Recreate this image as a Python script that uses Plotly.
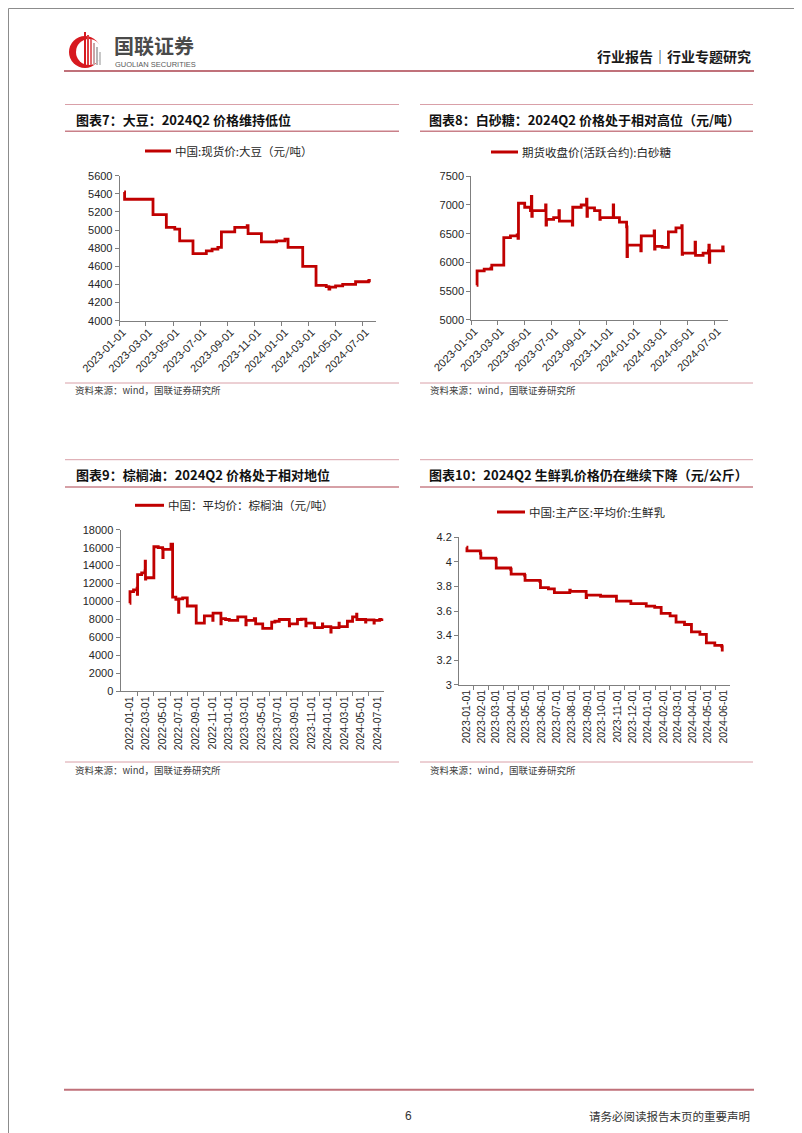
import plotly.graph_objects as go
import pandas as pd

# ---------------- data ----------------
soy_dates = ["2023-01-11", "2023-01-12", "2023-03-17", "2023-04-16", "2023-05-05", "2023-05-16",
             "2023-06-15", "2023-07-15", "2023-07-28", "2023-08-10", "2023-08-18", "2023-09-17",
             "2023-10-15", "2023-10-17", "2023-11-16", "2023-12-20", "2024-01-08", "2024-01-15",
             "2024-02-17", "2024-03-18", "2024-04-10", "2024-04-16", "2024-04-18", "2024-05-01",
             "2024-05-17", "2024-06-15", "2024-07-14", "2024-07-16"]
soy_vals = [5420, 5340, 5170, 5030, 5010, 4880,
            4740, 4770, 4790, 4810, 4980, 5030,
            5050, 4960, 4870, 4880, 4900, 4810,
            4600, 4390, 4375, 4350, 4370, 4385,
            4400, 4430, 4440, 4460]

sugar_dates = ["2023-01-13", "2023-01-14", "2023-01-30", "2023-02-14", "2023-02-15", "2023-02-16",
               "2023-03-15", "2023-03-30", "2023-04-14", "2023-04-16", "2023-04-17", "2023-05-01",
               "2023-05-14", "2023-05-16", "2023-05-17", "2023-05-18", "2023-06-17", "2023-06-18",
               "2023-06-19", "2023-07-05", "2023-07-17", "2023-07-18", "2023-08-16", "2023-08-17",
               "2023-09-05", "2023-09-17", "2023-09-18", "2023-09-19", "2023-10-05", "2023-10-17",
               "2023-10-18", "2023-11-16", "2023-11-17", "2023-11-30", "2023-12-16", "2023-12-17",
               "2023-12-18", "2024-01-17", "2024-01-18", "2024-02-16", "2024-02-17", "2024-02-18",
               "2024-03-05", "2024-03-19", "2024-04-05", "2024-04-18", "2024-04-19", "2024-04-20",
               "2024-05-18", "2024-05-19", "2024-06-05", "2024-06-17", "2024-06-18", "2024-06-19",
               "2024-06-20", "2024-07-05", "2024-07-19", "2024-07-20", "2024-07-21"]
sugar_vals = [5600, 5850, 5880, 5900, 5880, 5950,
              6430, 6460, 6480, 6420, 7030, 6960,
              6900, 7150, 6800, 6900, 7000, 6650,
              6750, 6780, 6900, 6720, 6650, 6960,
              7000, 7100, 6800, 6950, 6900, 6750,
              6780, 7000, 6780, 6700, 6620, 6100,
              6300, 6200, 6460, 6550, 6230, 6280,
              6260, 6530, 6600, 6640, 6140, 6160,
              6350, 6120, 6160, 6200, 6300, 6000,
              6200, 6200, 6270, 6200, 6210]

palm_dates = ["2022-01-01", "2022-01-02", "2022-01-15", "2022-01-28", "2022-01-29", "2022-01-30",
              "2022-02-14", "2022-02-26", "2022-02-27", "2022-02-28", "2022-03-01", "2022-03-31",
              "2022-04-16", "2022-05-02", "2022-05-03", "2022-05-04", "2022-06-02", "2022-06-08",
              "2022-06-20", "2022-06-30", "2022-07-01", "2022-07-15", "2022-08-01", "2022-09-03",
              "2022-10-03", "2022-11-03", "2022-11-04", "2022-12-03", "2022-12-04", "2022-12-20",
              "2023-01-03", "2023-02-03", "2023-03-05", "2023-03-06", "2023-04-05", "2023-04-10",
              "2023-05-06", "2023-06-08", "2023-06-20", "2023-07-06", "2023-08-12", "2023-08-13",
              "2023-09-11", "2023-09-25", "2023-10-12", "2023-10-13", "2023-11-12", "2023-11-13",
              "2023-12-12", "2023-12-13", "2024-01-12", "2024-01-13", "2024-02-11", "2024-02-12",
              "2024-03-13", "2024-04-01", "2024-04-16", "2024-04-17", "2024-05-19", "2024-05-20",
              "2024-06-19", "2024-06-20", "2024-07-10", "2024-07-19"]
palm_vals = [9800, 11100, 11300, 11500, 10800, 13000,
             13200, 13400, 14500, 12500, 12650, 16100,
             16000, 15900, 14900, 15800, 16400, 10500,
             10250, 8800, 10300, 10400, 9500, 7600,
             8400, 7900, 8700, 7500, 8100, 8000,
             7900, 8300, 7400, 7900, 8100, 7500,
             7000, 7700, 7800, 8000, 7300, 7500,
             8000, 8050, 7300, 7600, 7500, 7100,
             7500, 7200, 6600, 7100, 7600, 7200,
             7800, 8300, 8600, 8000, 7700, 7950,
             7600, 7900, 8000, 8100]

milk_dates = ["2023-01-01", "2023-01-02", "2023-01-29", "2023-01-30", "2023-03-01", "2023-03-02",
              "2023-03-31", "2023-04-01", "2023-04-28", "2023-04-29", "2023-05-29", "2023-05-30",
              "2023-06-15", "2023-06-27", "2023-07-28", "2023-07-29", "2023-08-30", "2023-08-31",
              "2023-09-28", "2023-10-30", "2023-11-28", "2023-12-29", "2024-01-15", "2024-01-28",
              "2024-02-15", "2024-02-27", "2024-03-15", "2024-03-29", "2024-04-15", "2024-04-28",
              "2024-05-15", "2024-05-29", "2024-05-30"]
milk_vals = [4.12, 4.09, 4.07, 4.03, 4.02, 3.95,
             3.94, 3.90, 3.89, 3.85, 3.84, 3.79,
             3.78, 3.75, 3.77, 3.76, 3.71, 3.73,
             3.72, 3.68, 3.66, 3.64, 3.63, 3.58,
             3.56, 3.51, 3.49, 3.43, 3.41, 3.34,
             3.32, 3.31, 3.27]

bi_month_23 = ["2023-01-01", "2023-03-01", "2023-05-01", "2023-07-01", "2023-09-01", "2023-11-01",
               "2024-01-01", "2024-03-01", "2024-05-01", "2024-07-01"]
bi_month_22 = ["2022-01-01", "2022-03-01", "2022-05-01", "2022-07-01", "2022-09-01", "2022-11-01",
               "2023-01-01", "2023-03-01", "2023-05-01", "2023-07-01", "2023-09-01", "2023-11-01",
               "2024-01-01", "2024-03-01", "2024-05-01", "2024-07-01"]
monthly = ["2023-01-01", "2023-02-01", "2023-03-01", "2023-04-01", "2023-05-01", "2023-06-01",
           "2023-07-01", "2023-08-01", "2023-09-01", "2023-10-01", "2023-11-01", "2023-12-01",
           "2024-01-01", "2024-02-01", "2024-03-01", "2024-04-01", "2024-05-01", "2024-06-01"]

titles = ["图表7：大豆：2024Q2 价格维持低位",
          "图表8：白砂糖：2024Q2 价格处于相对高位（元/吨）",
          "图表9：棕榈油：2024Q2 价格处于相对地位",
          "图表10：2024Q2 生鲜乳价格仍在继续下降（元/公斤）"]
legends = ["中国:现货价:大豆（元/吨）",
           "期货收盘价(活跃合约):白砂糖",
           "中国：平均价：棕榈油（元/吨）",
           "中国:主产区:平均价:生鲜乳"]
source = "资料来源：wind，国联证券研究所"

# ---------------- helpers ----------------
W, H = 802, 1133
RED = "#C00000"
AX = "#7F7F7F"
CJK = "Noto Sans CJK SC"
NUM = "Liberation Sans, Arial, sans-serif"


def fx(x):
    return x / W


def fy(y):
    return 1 - y / H


def mids(dates):
    d = pd.to_datetime(dates)
    out = []
    for a, b in zip(d[:-1], d[1:]):
        out.append((a + (b - a) / 2).strftime("%Y-%m-%d"))
    return out


def shifted(dates, days):
    return [(pd.Timestamp(d) + pd.Timedelta(days=days)).strftime("%Y-%m-%d") for d in dates]


fig = go.Figure()
series = [(soy_dates, soy_vals), (sugar_dates, sugar_vals), (palm_dates, palm_vals), (milk_dates, milk_vals)]
for i, (d, v) in enumerate(series):
    sfx = "" if i == 0 else str(i + 1)
    fig.add_trace(go.Scatter(x=d, y=v, mode="lines", line=dict(color=RED, width=2.8, shape="hv"),
                             xaxis="x" + sfx, yaxis="y" + sfx, showlegend=False, hoverinfo="skip"))

tickfont = dict(family=NUM, size=11, color="#262626")
base_x = dict(type="date", showgrid=False, zeroline=False, showline=True, linecolor=AX, linewidth=1,
              tickfont=tickfont, tickmode="array", ticklen=4, tickcolor=AX, fixedrange=True,
              automargin=False)
base_y = dict(showgrid=False, zeroline=False, showline=True, linecolor=AX, linewidth=1,
              tickfont=tickfont, ticks="outside", ticklen=4, tickcolor=AX, fixedrange=True,
              automargin=False, tickformat="d")

# chart 1: soybean (labels sit just right of the boundary tick marks)
x1 = dict(base_x, domain=[fx(111.7), fx(368)], anchor="y", range=["2023-01-01", "2024-07-31"],
          tickvals=shifted(bi_month_23, 7), ticktext=bi_month_23, tickangle=-45, ticks="",
          minor=dict(tickmode="array", tickvals=bi_month_23, ticks="outside", ticklen=4, tickcolor=AX))
y1 = dict(base_y, domain=[fy(312.7), fy(167.7)], anchor="x", range=[4000, 5600], dtick=200, tick0=4000)
# chart 2: sugar
x2 = dict(base_x, domain=[fx(463.3), fx(720)], anchor="y2", range=["2023-01-01", "2024-07-31"],
          tickvals=shifted(bi_month_23, 7), ticktext=bi_month_23, tickangle=-45, ticks="",
          minor=dict(tickmode="array", tickvals=bi_month_23, ticks="outside", ticklen=4, tickcolor=AX))
y2 = dict(base_y, domain=[fy(311.7), fy(168.3)], anchor="x2", range=[5000, 7500], dtick=500, tick0=5000)
# chart 3: palm oil
x3 = dict(base_x, domain=[fx(112.5), fx(375.5)], anchor="y3", range=["2021-11-28", "2024-07-24"],
          tickvals=bi_month_22, ticktext=bi_month_22, tickangle=-90, ticks="",
          tickfont=dict(family=NUM, size=10.5, color="#262626"),
          minor=dict(tickmode="array", tickvals=mids(bi_month_22), ticks="outside", ticklen=4, tickcolor=AX))
y3 = dict(base_y, domain=[fy(683.3), fy(521.7)], anchor="x3", range=[0, 18000], dtick=2000, tick0=0)
# chart 4: milk
x4 = dict(base_x, domain=[fx(451), fx(721.7)], anchor="y4", range=["2022-12-17", "2024-06-14"],
          tickvals=monthly, ticktext=monthly, tickangle=-90, ticks="",
          tickfont=dict(family=NUM, size=10.5, color="#262626"),
          minor=dict(tickmode="array", tickvals=mids(monthly), ticks="outside", ticklen=4, tickcolor=AX))
y4 = dict(base_y, domain=[fy(676.7), fy(529.3)], anchor="x4", range=[3, 4.2], dtick=0.2, tick0=3,
          tickformat="")

# page overlay axis in pixel coordinates
x5 = dict(domain=[0, 1], range=[0, W], visible=False, anchor="y5", fixedrange=True, automargin=False)
y5 = dict(domain=[0, 1], range=[H, 0], visible=False, anchor="x5", fixedrange=True, automargin=False)

shapes = []
ann = []


def hline(x0, x1_, y, color, width):
    shapes.append(dict(type="line", xref="x5", yref="y5", x0=x0, x1=x1_, y0=y, y1=y,
                       line=dict(color=color, width=width), layer="above"))


def text(x, y, s, size, color="#000000", bold=False, family=CJK, xanchor="left"):
    if bold:
        s = "<b>" + s + "</b>"
    ann.append(dict(xref="x5", yref="y5", x=x, y=y, text=s, showarrow=False, xanchor=xanchor,
                    yanchor="middle", font=dict(family=family, size=size, color=color)))


# page border
shapes.append(dict(type="rect", xref="x5", yref="y5", x0=0.5, x1=W - 0.5, y0=0.5, y1=H - 0.5,
                   line=dict(color="#8C8C8C", width=1), layer="above"))

# header
hline(56, 746, 63, "#C0717A", 2)
# logo: crescent + bars
shapes.append(dict(type="circle", xref="x5", yref="y5", x0=61, x1=93, y0=28, y1=60,
                   fillcolor="#D7191F", line=dict(width=0)))
shapes.append(dict(type="circle", xref="x5", yref="y5", x0=68, x1=94, y0=31, y1=57,
                   fillcolor="white", line=dict(width=0)))
bar_tops = [24, 27, 31, 35, 39, 44]
bar_cols = ["#D7191F", "#DD3B40", "#E36A6E", "#C9A6A8", "#B7B7B7", "#C8C8C8"]
for k, (t, c) in enumerate(zip(bar_tops, bar_cols)):
    shapes.append(dict(type="rect", xref="x5", yref="y5", x0=76 + k * 3, x1=78 + k * 3, y0=t, y1=57,
                       fillcolor=c, line=dict(width=0)))
text(104, 37.5, "国联证券", 20, "#4A4A4A", bold=True)
text(105, 56.5, "GUOLIAN SECURITIES", 7.5, "#5A5A5A", family=NUM)
text(745, 48, "行业报告｜行业专题研究", 14, "#1A1A1A", bold=True, xanchor="right")

# section headers
for (x0, x1_, ytop, ybot, tx, ty, t) in [
        (57, 391, 96.5, 123.3, 66, 111, titles[0]),
        (412, 745, 96.5, 123.3, 419, 111, titles[1]),
        (57, 391, 451.7, 479, 66, 466, titles[2]),
        (412, 745, 451.7, 479, 419, 466, titles[3])]:
    hline(x0, x1_, ytop, "#D9A0A8", 1)
    hline(x0, x1_, ybot, "#C98089", 1.5)
    text(tx, ty, t, 13, "#111111", bold=True)

# legends
for (lx0, lx1, ly, t) in [(137, 163, 143, legends[0]), (483, 510, 144, legends[1]),
                          (127, 156, 497.3, legends[2]), (489, 517, 504, legends[3])]:
    shapes.append(dict(type="line", xref="x5", yref="y5", x0=lx0, x1=lx1, y0=ly, y1=ly,
                       line=dict(color=RED, width=3)))
    text(lx1 + 2, ly, t, 11.5, "#262626")

# sources
for (x0, x1_, yl, yt) in [(57, 391, 375, 381.5), (412, 745, 375, 381.5),
                          (57, 391, 754, 761.5), (412, 745, 754, 761.5)]:
    hline(x0, x1_, yl, "#D9A0A8", 1)
    text(x0 + 8, yt, source, 9.5, "#404040")

# footer
hline(56, 746, 1081.7, "#C0717A", 2)
text(400.5, 1108, "6", 12, "#333333", family=NUM, xanchor="center")
text(744, 1108, "请务必阅读报告末页的重要声明", 11.5, "#333333", xanchor="right")

fig.update_layout(
    width=W, height=H, margin=dict(l=0, r=0, t=0, b=0, pad=0, autoexpand=False),
    paper_bgcolor="white", plot_bgcolor="rgba(0,0,0,0)",
    showlegend=False,
    xaxis=x1, yaxis=y1, xaxis2=x2, yaxis2=y2, xaxis3=x3, yaxis3=y3, xaxis4=x4, yaxis4=y4,
    xaxis5=x5, yaxis5=y5,
    shapes=shapes, annotations=ann,
)

fig.write_html("out.html")
